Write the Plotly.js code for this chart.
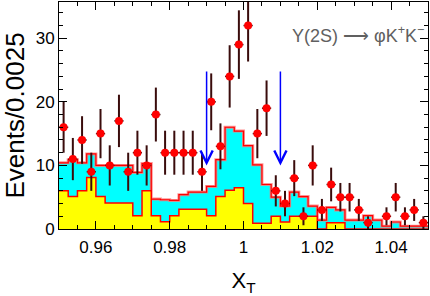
<!DOCTYPE html>
<html>
<head>
<meta charset="utf-8">
<script src="https://cdn.plot.ly/plotly-3.0.1.min.js"></script>
<style>html,body{margin:0;padding:0;background:#fff;}#chart{width:430px;height:296px;}</style>
</head>
<body>
<div id="chart"></div>
<script>
// Binning
const binStart = 0.95;
const binWidth = 0.0025;

// Data counts per bin (40 bins, 0.95 - 1.05)
const dataCounts = [16,11,14,9,15,10,17,9,12,10,18,12,12,12,12,9,20,13,24,29,32,15,19,6,4,8,2,10,3,7,5,5,3,1,0,2,5,2,3,1];
// Statistical errors (sqrt N)
const dataErrors = [4,3.32,3.74,3,3.87,3.16,4.12,3,3.46,3.16,4.24,3.46,3.46,3.46,3.46,3,4.47,3.61,4.9,5.39,5.66,3.87,4.36,2.45,2,2.83,1.41,3.16,1.73,2.65,2.24,2.24,1.73,1,0,1.41,2.24,1.41,1.73,1];

// Stacked MC total (cyan top)
const totalMC = [10.4,10.9,10.4,11.8,10.0,10.0,10.0,10.0,8.9,10.3,4.7,4.6,4.5,5.4,5.8,5.8,6.7,10.9,16.0,15.4,13.1,10.1,7.0,5.0,3.6,5.8,5.1,3.6,1.4,3.4,3.0,1.4,1.4,2.1,1.4,0.45,1.1,0.45,0.45,0.45];
// Lower component (yellow)
const lowerMC = [6.0,5.1,6.0,8.1,5.1,4.1,4.1,4.1,2.1,6.0,2.1,1.15,2.1,3.1,3.1,3.1,2.1,5.1,6.1,6.5,4.0,0.9,0.9,2.0,1.1,2.0,2.0,2.0,0,1.0,1.0,0,0,0,0,0,0,0,0,0];

// Signal window arrows
const arrowX = [0.99, 1.01];
const arrowTop = 25;
const arrowBottom = 10;

const xTickVals = [0.96, 0.98, 1.00, 1.02, 1.04];
const xTickText = ['0.96', '0.98', '1', '1.02', '1.04'];
const yTickVals = [0, 10, 20, 30];

const nb = dataCounts.length;
const edges = [];
for (let i = 0; i <= nb; i++) edges.push(binStart + i * binWidth);
const centers = [];
for (let i = 0; i < nb; i++) centers.push(binStart + (i + 0.5) * binWidth);

function stepY(v) { return v.concat([v[v.length - 1]]); }

const traces = [];
traces.push({
  x: edges, y: stepY(totalMC), type: 'scatter', mode: 'lines',
  line: {shape: 'hv', color: 'rgba(255,120,120,0.8)', width: 3},
  fill: 'tozeroy', fillcolor: '#00ffff', hoverinfo: 'skip', showlegend: false
});
traces.push({
  x: edges, y: stepY(totalMC), type: 'scatter', mode: 'lines',
  line: {shape: 'hv', color: '#ff0000', width: 1.2},
  hoverinfo: 'skip', showlegend: false
});
traces.push({
  x: edges, y: stepY(lowerMC), type: 'scatter', mode: 'lines',
  line: {shape: 'hv', color: '#ff0000', width: 1.5},
  fill: 'tozeroy', fillcolor: '#ffff00', hoverinfo: 'skip', showlegend: false
});

const px = [], py = [], pe = [];
for (let i = 0; i < nb; i++) {
  if (dataCounts[i] > 0) { px.push(centers[i]); py.push(dataCounts[i]); pe.push(dataErrors[i]); }
}
traces.push({
  x: px, y: py, type: 'scatter', mode: 'markers',
  marker: {color: '#ff0000', size: 8},
  error_y: {type: 'data', array: pe, visible: true, color: '#3a0c0c', thickness: 2, width: 0},
  error_x: {type: 'constant', value: binWidth / 2, visible: true, color: '#3a0c0c', thickness: 1.5, width: 0},
  showlegend: false
});

const annotations = arrowX.map(x => ({
  x: x, y: arrowBottom, ax: x, ay: arrowTop, xref: 'x', yref: 'y', axref: 'x', ayref: 'y',
  showarrow: true, arrowhead: 5, arrowsize: 1.6, arrowwidth: 1.5, arrowcolor: '#0000ff', text: ''
}));
annotations.push({
  xref: 'paper', yref: 'paper', x: 0.995, y: 0.855, xanchor: 'right', yanchor: 'middle',
  text: 'Υ(2S) ⟶ φK<sup>+</sup>K<sup>−</sup>', showarrow: false,
  font: {family: 'Liberation Sans, Arial, sans-serif', size: 18, color: '#606060'}
});

const layout = {
  width: 430, height: 296,
  margin: {l: 59, r: 2, t: 2, b: 67},
  paper_bgcolor: '#ffffff', plot_bgcolor: '#ffffff',
  font: {family: 'Liberation Sans, Arial, sans-serif', color: '#000'},
  xaxis: {
    range: [0.95, 1.05], showgrid: false, zeroline: false,
    showline: true, linecolor: '#000', linewidth: 1, mirror: 'allticks',
    ticks: 'inside', ticklen: 8, tickcolor: '#000',
    tickvals: xTickVals, ticktext: xTickText,
    tickfont: {size: 17}, ticklabelstandoff: 3,
    minor: {dtick: 0.005, ticks: 'inside', ticklen: 4, tickcolor: '#000', showgrid: false},
    title: {text: 'X<sub>T</sub>', font: {size: 22}, standoff: 16}
  },
  yaxis: {
    range: [0, 35.7], showgrid: false, zeroline: false,
    showline: true, linecolor: '#000', linewidth: 1, mirror: 'allticks',
    ticks: 'inside', ticklen: 8, tickcolor: '#000',
    tickvals: yTickVals,
    tickfont: {size: 17},
    minor: {dtick: 2, ticks: 'inside', ticklen: 4, tickcolor: '#000', showgrid: false},
    title: {text: 'Events/0.0025', font: {size: 26}, standoff: 8}
  },
  annotations: annotations,
  showlegend: false
};

Plotly.newPlot('chart', traces, layout, {displayModeBar: false, staticPlot: true});
</script>
</body>
</html>
